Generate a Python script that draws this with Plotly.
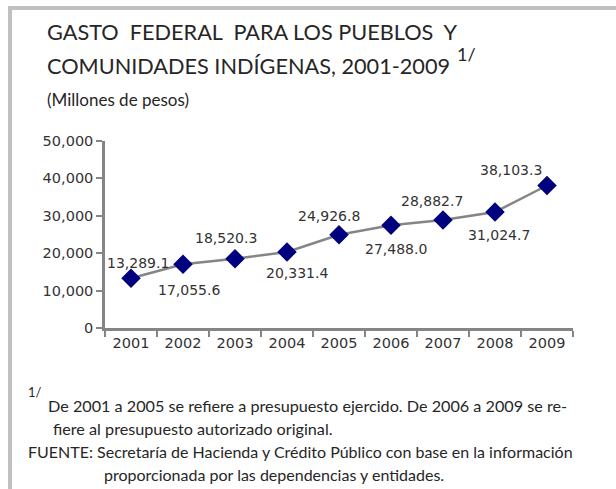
import plotly.graph_objects as go

years = ["2001", "2002", "2003", "2004", "2005", "2006", "2007", "2008", "2009"]
gasto = [13289.1, 17055.6, 18520.3, 20331.4, 24926.8, 27488.0, 28882.7, 31024.7, 38103.3]
y_ticks = [0, 10000, 20000, 30000, 40000, 50000]
y_tick_labels = ["0", "10,000", "20,000", "30,000", "40,000", "50,000"]

# label offsets in pixels (dx, dy) relative to each point (dy positive = down)
label_offsets = [(7, -15), (6, 26), (-9, -21), (10, 21), (-10, -19),
                 (5, 24), (-11, -19), (4, 23), (-36, -15)]

W, H = 616, 489
L, R, T, B = 105, 573, 141, 328

def px(x):
    return (x - L) / (R - L)

def py(y):
    return (B - y) / (B - T)

fig = go.Figure()
fig.add_trace(go.Scatter(
    x=years, y=gasto, mode="lines+markers",
    line=dict(color="#858585", width=2.5),
    marker=dict(symbol="diamond", size=15, color="#00007f"),
    hoverinfo="skip", showlegend=False,
))

annotations = []
for i, (v, (dx, dy)) in enumerate(zip(gasto, label_offsets)):
    annotations.append(dict(
        x=i, y=v, xref="x", yref="y", text=f"{v:,.1f}", showarrow=False,
        xshift=dx, yshift=-dy, font=dict(family="DejaVu Sans", size=14, color="#333333"),
        xanchor="center", yanchor="middle",
    ))

def txt(x, y, text, size, color="#262626", family="Lato"):
    annotations.append(dict(
        x=px(x), y=py(y), xref="paper", yref="paper", text=text, showarrow=False,
        xanchor="left", yanchor="middle", font=dict(family=family, size=size, color=color),
    ))

txt(45, 32, "GASTO  FEDERAL  PARA LOS PUEBLOS  Y", 21.7)
txt(45, 66, "COMUNIDADES INDÍGENAS, 2001-2009", 21.7)
txt(455, 54, "1/", 18)
txt(45, 99, "(Millones de pesos)", 17)
txt(26, 392, "1/", 13)
txt(46, 405, "De 2001 a 2005 se refiere a presupuesto ejercido. De 2006 a 2009 se re-", 16.2)
txt(51, 428, "fiere al presupuesto autorizado original.", 16.2)
txt(26, 451, "FUENTE: Secretaría de Hacienda y Crédito Público con base en la información", 16)
txt(102, 474, "proporcionada por las dependencias y entidades.", 16)

shapes = [
    dict(type="line", xref="paper", yref="paper", x0=px(8), x1=px(616), y0=py(8), y1=py(8),
         line=dict(color="#c0c0c0", width=4)),
    dict(type="line", xref="paper", yref="paper", x0=px(10), x1=px(10), y0=py(6), y1=py(489),
         line=dict(color="#c0c0c0", width=4)),
]

fig.update_layout(
    width=W, height=H,
    margin=dict(l=L, r=W - R, t=T, b=H - B, pad=0),
    paper_bgcolor="white", plot_bgcolor="white",
    annotations=annotations, shapes=shapes,
    xaxis=dict(type="category", tickson="boundaries", ticks="outside", ticklen=6,
               tickcolor="#858585", tickwidth=2, showline=True, linecolor="#858585",
               linewidth=2.5, showgrid=False, zeroline=False,
               tickfont=dict(family="DejaVu Sans", size=14.5, color="#333333"),
               range=[-0.5, 8.5], fixedrange=True),
    yaxis=dict(range=[0, 50000], tickvals=y_ticks, ticktext=y_tick_labels, ticks="outside",
               ticklen=6, tickcolor="#858585", tickwidth=2, showline=True,
               linecolor="#858585", linewidth=2.5, showgrid=False, zeroline=False,
               tickfont=dict(family="DejaVu Sans", size=14.5, color="#333333"), fixedrange=True),
)

fig.write_html("out.html", config={"displayModeBar": False},
               post_script="document.body.style.margin='0';")
